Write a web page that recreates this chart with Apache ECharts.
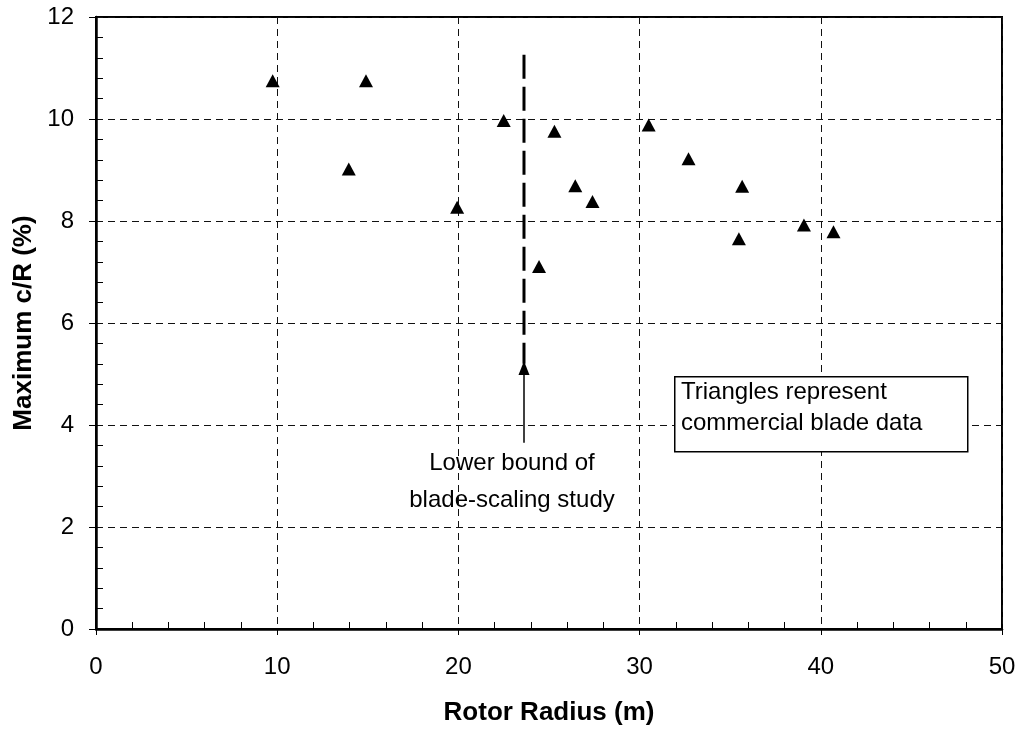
<!DOCTYPE html>
<html>
<head>
<meta charset="utf-8">
<script src="https://cdn.jsdelivr.net/npm/echarts@6/dist/echarts.min.js"></script>
<style>
  html, body { margin: 0; padding: 0; background: #fff; }
  #chart { width: 1024px; height: 736px; }
</style>
</head>
<body>
<div id="chart"></div>
<script>
// commercial blade data: rotor radius (m) vs max c/R (%)
var radius = [9.75, 14.9, 13.95, 19.93, 22.5, 25.3, 26.45, 27.4, 24.45, 30.5, 32.7, 35.66, 35.48, 39.07, 40.7];
var chordRatio = [10.75, 10.75, 9.02, 8.27, 9.97, 9.76, 8.69, 8.38, 7.11, 9.88, 9.22, 8.68, 7.65, 7.92, 7.79];

// lower bound of the blade-scaling study
var boundX = 23.62;
var boundTop = 11.26;
var boundBottom = 5.2;
var arrowFrom = 3.65;
var arrowTo = 5.12;

var xTicks = [0, 10, 20, 30, 40, 50];
var yTicks = [0, 2, 4, 6, 8, 10, 12];

var points = [];
for (var i = 0; i < radius.length; i++) {
  points.push([radius[i], chordRatio[i]]);
}

var font = 'Liberation Sans, Arial, sans-serif';

var myChart = echarts.init(document.getElementById('chart'), null, { renderer: 'canvas' });

myChart.setOption({
  backgroundColor: '#fff',
  animation: false,
  grid: {
    left: 96,
    top: 17,
    width: 906,
    height: 612,
    show: true,
    borderColor: '#000',
    borderWidth: 2
  },
  xAxis: {
    type: 'value',
    min: xTicks[0],
    max: xTicks[xTicks.length - 1],
    interval: 10,
    name: 'Rotor Radius (m)',
    nameLocation: 'middle',
    nameGap: 71,
    nameTextStyle: { fontFamily: font, fontSize: 26, fontWeight: 'bold', color: '#000' },
    axisLine: { lineStyle: { color: '#000', width: 2.5 } },
    axisTick: { show: true, length: 6, lineStyle: { color: '#000', width: 1 } },
    minorTick: { show: true, splitNumber: 5, length: -7, lineStyle: { color: '#000', width: 1 } },
    axisLabel: { fontFamily: font, fontSize: 24, color: '#000', margin: 26 },
    splitLine: { show: true, lineStyle: { color: '#111', width: 1, type: [7, 5] } }
  },
  yAxis: {
    type: 'value',
    min: yTicks[0],
    max: yTicks[yTicks.length - 1],
    interval: 2,
    name: 'Maximum c/R (%)',
    nameLocation: 'middle',
    nameGap: 56,
    nameTextStyle: { fontFamily: font, fontSize: 26, fontWeight: 'bold', color: '#000' },
    axisLine: { lineStyle: { color: '#000', width: 2.5 } },
    axisTick: { show: true, length: 7, lineStyle: { color: '#000', width: 1 } },
    minorTick: { show: true, splitNumber: 5, length: -7, lineStyle: { color: '#000', width: 1 } },
    axisLabel: { fontFamily: font, fontSize: 24, color: '#000', margin: 22 },
    splitLine: { show: true, lineStyle: { color: '#111', width: 1, type: [7, 5] } }
  },
  series: [
    {
      name: 'Commercial blades',
      type: 'scatter',
      data: points,
      symbol: 'triangle',
      symbolSize: [14, 13],
      itemStyle: { color: '#000', opacity: 1 },
      z: 5
    },
    {
      name: 'Lower bound',
      type: 'line',
      data: [[boundX, boundTop], [boundX, boundBottom]],
      symbol: 'none',
      lineStyle: { color: '#000', width: 3, type: [24, 8] },
      z: 4,
      markLine: {
        silent: true,
        symbol: ['none', 'triangle'],
        symbolSize: [11, 14],
        label: { show: false },
        lineStyle: { color: '#000', width: 1.5, type: 'solid', opacity: 1 },
        itemStyle: { color: '#000', opacity: 1 },
        data: [[{ coord: [boundX, arrowFrom] }, { coord: [boundX, arrowTo] }]]
      }
    }
  ],
  graphic: [
    {
      type: 'text',
      x: 512,
      y: 445,
      style: {
        text: 'Lower bound of\nblade-scaling study',
        font: '24px ' + font,
        fill: '#000',
        align: 'center',
        lineHeight: 37
      }
    },
    {
      type: 'rect',
      left: 674,
      top: 376,
      shape: { width: 293, height: 75 },
      style: { fill: '#fff', stroke: '#000', lineWidth: 1.5 },
      z: 10
    },
    {
      type: 'text',
      left: 681,
      top: 377,
      style: {
        text: 'Triangles represent\ncommercial blade data',
        font: '24px ' + font,
        fill: '#000',
        lineHeight: 31
      },
      z: 11
    }
  ]
});
</script>
</body>
</html>
